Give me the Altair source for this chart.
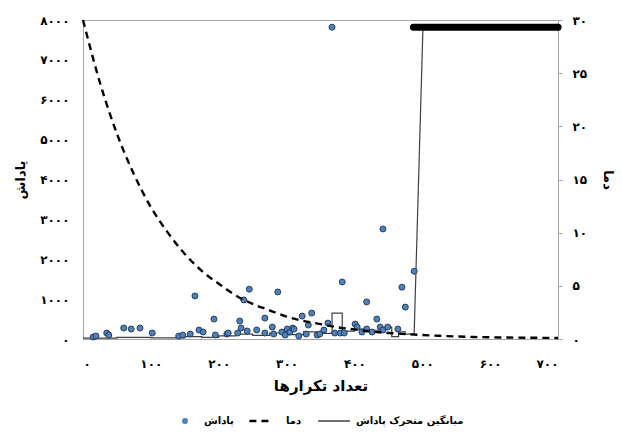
import altair as alt
import pandas as pd

# ---------------- data ----------------
reward_x = [15, 19, 35, 38, 60, 71, 84, 102, 141, 147, 158, 165, 171, 177, 193, 195,
            212, 214, 228, 233, 231, 237, 245, 242, 256, 268, 268, 279, 281, 287, 293,
            298, 301, 305, 309, 311, 318, 323, 329, 332, 337, 345, 349, 355, 361, 367,
            371, 379, 382, 385, 401, 404, 411, 418, 418, 426, 433, 438, 442, 442, 449,
            464, 470, 475, 488, 700]
reward_y = [50, 75, 150, 100, 275, 250, 275, 150, 75, 100, 125, 1080, 225, 175, 500, 100,
            125, 150, 150, 275, 450, 980, 1250, 200, 225, 525, 150, 300, 125, 1180, 175,
            100, 250, 175, 275, 250, 75, 575, 125, 350, 650, 100, 125, 225, 400, 7820,
            150, 150, 1430, 150, 375, 300, 175, 250, 930, 175, 500, 300, 225, 2760, 300,
            250, 1300, 800, 1700, 7820]

# converged reward run (dense points at the top)
conv_x = [487, 700]
conv_y = [7820, 7820]

temp_x = [0, 25, 50, 75, 100, 125, 150, 175, 200, 225, 250, 275, 300, 325, 350, 375,
          400, 425, 450, 475, 500, 525, 550, 575, 600, 625, 650, 675, 700]
temp_y = [30, 24.1, 19.3, 15.5, 12.4, 10.0, 8.0, 6.4, 5.2, 4.1, 3.3, 2.7, 2.1, 1.7,
          1.4, 1.1, 0.9, 0.7, 0.57, 0.46, 0.37, 0.3, 0.24, 0.19, 0.16, 0.14, 0.12, 0.11, 0.1]

ma_x = [0, 50, 50, 100, 100, 150, 150, 175, 175, 200, 200, 225, 225, 250, 250, 275,
        275, 300, 300, 325, 325, 350, 350, 367, 367, 382, 382, 400, 400, 420, 420, 445,
        445, 455, 455, 465, 465, 475, 475, 488, 501, 700]
ma_y = [20, 20, 40, 40, 30, 30, 60, 60, 40, 40, 80, 80, 120, 120, 90, 90,
        150, 150, 110, 110, 180, 180, 140, 140, 650, 650, 200, 200, 250, 250, 220, 220,
        300, 300, 60, 60, 180, 180, 120, 120, 7820, 7820]

x_ticks = [0, 100, 200, 300, 400, 500, 600, 700]
x_labels = ["۰", "۱۰۰", "۲۰۰", "۳۰۰", "۴۰۰", "۵۰۰", "۶۰۰", "۷۰۰"]
yl_ticks = [0, 1000, 2000, 3000, 4000, 5000, 6000, 7000, 8000]
yl_labels = ["۰", "۱۰۰۰", "۲۰۰۰", "۳۰۰۰", "۴۰۰۰", "۵۰۰۰", "۶۰۰۰", "۷۰۰۰", "۸۰۰۰"]
yr_ticks = [0, 5, 10, 15, 20, 25, 30]
yr_labels = ["۰", "۵", "۱۰", "۱۵", "۲۰", "۲۵", "۳۰"]

S_REWARD = "پاداش"
S_TEMP = "دما"
S_MA = "میانگین متحرک پاداش"

X_TITLE = "تعداد تکرارها"
YL_TITLE = "پاداش"
YR_TITLE = "دما"


def label_expr(ticks, labels):
    expr = "''"
    for t, l in zip(reversed(ticks), reversed(labels)):
        expr = f"datum.value == {t} ? '{l}' : ({expr})"
    return expr


df_reward = pd.DataFrame({"x": reward_x, "y": reward_y, "series": S_REWARD})
df_conv = pd.DataFrame({"x": conv_x, "y": conv_y})
df_temp = pd.DataFrame({"x": temp_x, "y": temp_y, "series": S_TEMP})
df_ma = pd.DataFrame({"x": ma_x, "y": ma_y, "series": S_MA, "i": list(range(len(ma_x)))})

FONT = "DejaVu Sans"
GRAY = "#a6a6a6"
TXT = "#000000"
BLUE = "#4f81bd"
NAVY = "#1f3550"
MA_COL = "#404040"

xscale = alt.Scale(domain=[0, 700], nice=False)
xaxis = alt.Axis(values=x_ticks, labelExpr=label_expr(x_ticks, x_labels), title=X_TITLE,
                 ticks=False, grid=False, labelPadding=19, titlePadding=9,
                 domainColor=GRAY, labelFontSize=12, titleFontSize=15)
X = alt.X("x:Q", scale=xscale, axis=xaxis)

ylscale = alt.Scale(domain=[0, 8000], nice=False)
ylaxis = alt.Axis(values=yl_ticks, labelExpr=label_expr(yl_ticks, yl_labels), title=YL_TITLE,
                  ticks=False, grid=False, labelPadding=14, titlePadding=12,
                  domainColor=GRAY, labelFontSize=12, titleFontSize=13)
YL = alt.Y("y:Q", scale=ylscale, axis=ylaxis)

yrscale = alt.Scale(domain=[0, 30], nice=False)
yraxis = alt.Axis(values=yr_ticks, labelExpr=label_expr(yr_ticks, yr_labels), title=YR_TITLE,
                  orient="right", ticks=True, tickSize=4, tickColor=GRAY, grid=False,
                  labelPadding=10, titlePadding=14, domainColor=GRAY,
                  labelFontSize=12, titleFontSize=13)
YR = alt.Y("y:Q", scale=yrscale, axis=yraxis)


def legend(x, offset, **kw):
    return alt.Legend(title=None, orient="none", legendX=x, legendY=396,
                      labelFont=FONT, labelFontSize=10, labelFontWeight="bold",
                      labelColor=TXT, labelOffset=offset, symbolSize=36, **kw)


ma = alt.Chart(df_ma).mark_line(strokeWidth=1.2, interpolate="linear").encode(
    x=X, y=YL, order="i:Q",
    color=alt.Color("series:N", scale=alt.Scale(domain=[S_MA], range=[MA_COL]),
                    legend=legend(246, 17, symbolType="M-5.3,0L5.3,0", symbolStrokeWidth=1.5,
                                  symbolStrokeColor=MA_COL)),
)

band = alt.Chart(df_conv).mark_line(color="black", strokeWidth=7, strokeCap="round").encode(
    x=X, y=YL)

pts = alt.Chart(df_reward).mark_point(filled=True, size=36, color=BLUE, stroke=NAVY,
                                      strokeWidth=0.9, opacity=1).encode(
    x=X, y=YL,
    shape=alt.Shape("series:N", scale=alt.Scale(domain=[S_REWARD], range=["circle"]),
                    legend=legend(97, 14, symbolFillColor=BLUE, symbolStrokeColor=NAVY,
                                  symbolStrokeWidth=0.9)),
)

temp = alt.Chart(df_temp).mark_line(strokeWidth=2.4, interpolate="monotone",
                                    color="black").encode(
    x=X, y=YR,
    strokeDash=alt.StrokeDash("series:N", scale=alt.Scale(domain=[S_TEMP], range=[[7, 5]]),
                              legend=legend(171, 22, symbolType="M-3.2,0L3.2,0",
                                            symbolStrokeWidth=2.6, symbolStrokeColor="black")),
)

layered = alt.layer(alt.layer(ma, pts, band), temp).resolve_scale(y="independent")

chart = layered.properties(
    width=475, height=319,
    autosize=alt.AutoSizeParams(type="none"),
    padding={"left": 83, "top": 20, "right": 64, "bottom": 102},
).configure(font=FONT).configure_view(stroke=GRAY, strokeWidth=1).configure_axis(
    labelFont=FONT, titleFont=FONT, labelFontWeight="bold", titleFontWeight="bold",
    labelColor=TXT, titleColor=TXT,
)

chart.save("out.html", embed_options={"renderer": "svg", "actions": False})
